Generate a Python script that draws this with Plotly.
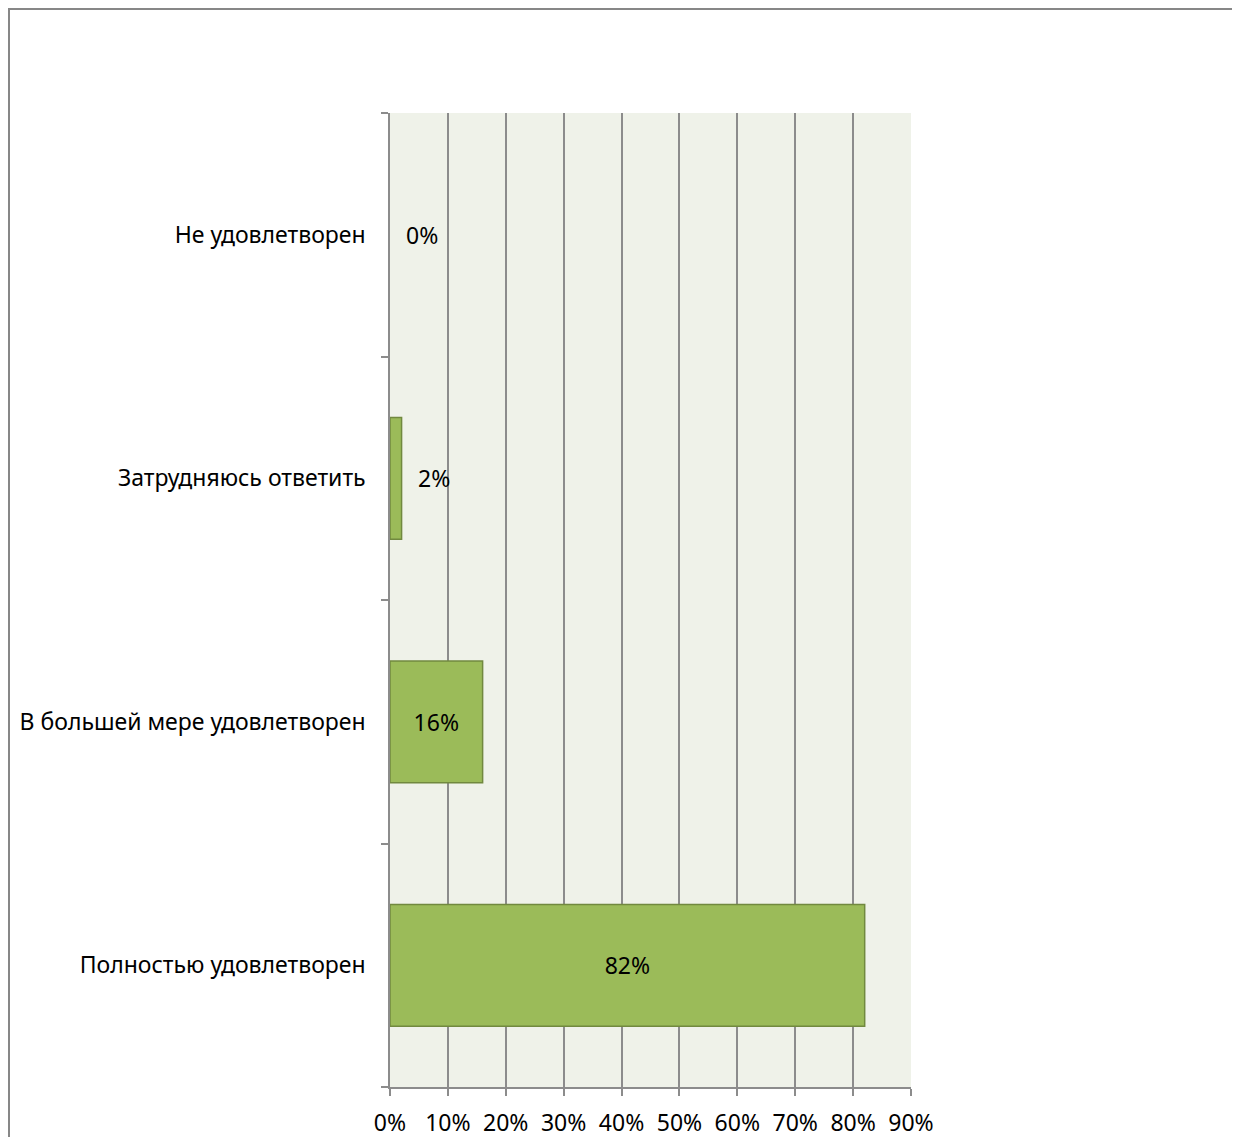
import plotly.graph_objects as go

categories = ["Полностью удовлетворен", "В большей мере удовлетворен", "Затрудняюсь ответить", "Не удовлетворен"]
values = [82, 16, 2, 0]
x_ticks = [0, 10, 20, 30, 40, 50, 60, 70, 80, 90]
x_tick_labels = [f"{v}%" for v in x_ticks]

FONT = "Noto Sans"
W, H = 1240, 1137
ML, MR, MT, MB = 382, 337, 105, 58
pw, ph = W - ML - MR, H - MT - MB

inside_text = [f"{v}%" if v >= 5 else "" for v in values]
line_widths = [1.5 if v > 0 else 0 for v in values]

fig = go.Figure()
fig.add_trace(go.Bar(
    y=categories, x=values, orientation="h",
    marker=dict(color="#9BBB59", line=dict(color="#71893F", width=line_widths)),
    width=0.5,
    text=inside_text, textposition="inside", insidetextanchor="middle",
    textfont=dict(family=FONT, size=23, color="#000000"),
    hoverinfo="skip",
))

annotations = []
for c, v in zip(categories, values):
    if v < 5:
        annotations.append(dict(x=v, y=c, xref="x", yref="y", text=f"{v}%",
                                showarrow=False, xanchor="left", xshift=14,
                                font=dict(family=FONT, size=23, color="#000000")))

# outer chart border (extends past right/bottom of the image)
shapes = [dict(type="rect", xref="paper", yref="paper",
               x0=(1 - ML) / pw, x1=(1300 - ML) / pw,
               y0=-200 / ph, y1=1 + (MT - 1) / ph,
               line=dict(color="#878787", width=2), fillcolor="rgba(0,0,0,0)", layer="below")]

fig.update_layout(
    width=W, height=H,
    margin=dict(l=ML, r=MR, t=MT, b=MB, pad=0),
    paper_bgcolor="#FFFFFF", plot_bgcolor="#EFF2E9",
    showlegend=False,
    annotations=annotations, shapes=shapes,
    bargap=0.5,
    xaxis=dict(range=[0, 90], tickvals=x_ticks, ticktext=x_tick_labels,
               showgrid=True, gridcolor="#8C8C8C", gridwidth=1.5,
               showline=True, linecolor="#8C8C8C", linewidth=1.5,
               ticks="outside", ticklen=7, tickcolor="#8C8C8C", tickwidth=1.5,
               tickfont=dict(family=FONT, size=23, color="#000000"),
               ticklabelstandoff=8, automargin=False,
               zeroline=False, fixedrange=True),
    yaxis=dict(categoryorder="array", categoryarray=categories,
               tickson="boundaries", ticks="outside", ticklen=7, tickcolor="#8C8C8C", tickwidth=1.5,
               showline=True, linecolor="#8C8C8C", linewidth=1.5,
               showgrid=False, automargin=False,
               tickfont=dict(family=FONT, size=23, color="#000000"),
               ticklabelstandoff=18, fixedrange=True),
)

fig.write_html("out.html")
